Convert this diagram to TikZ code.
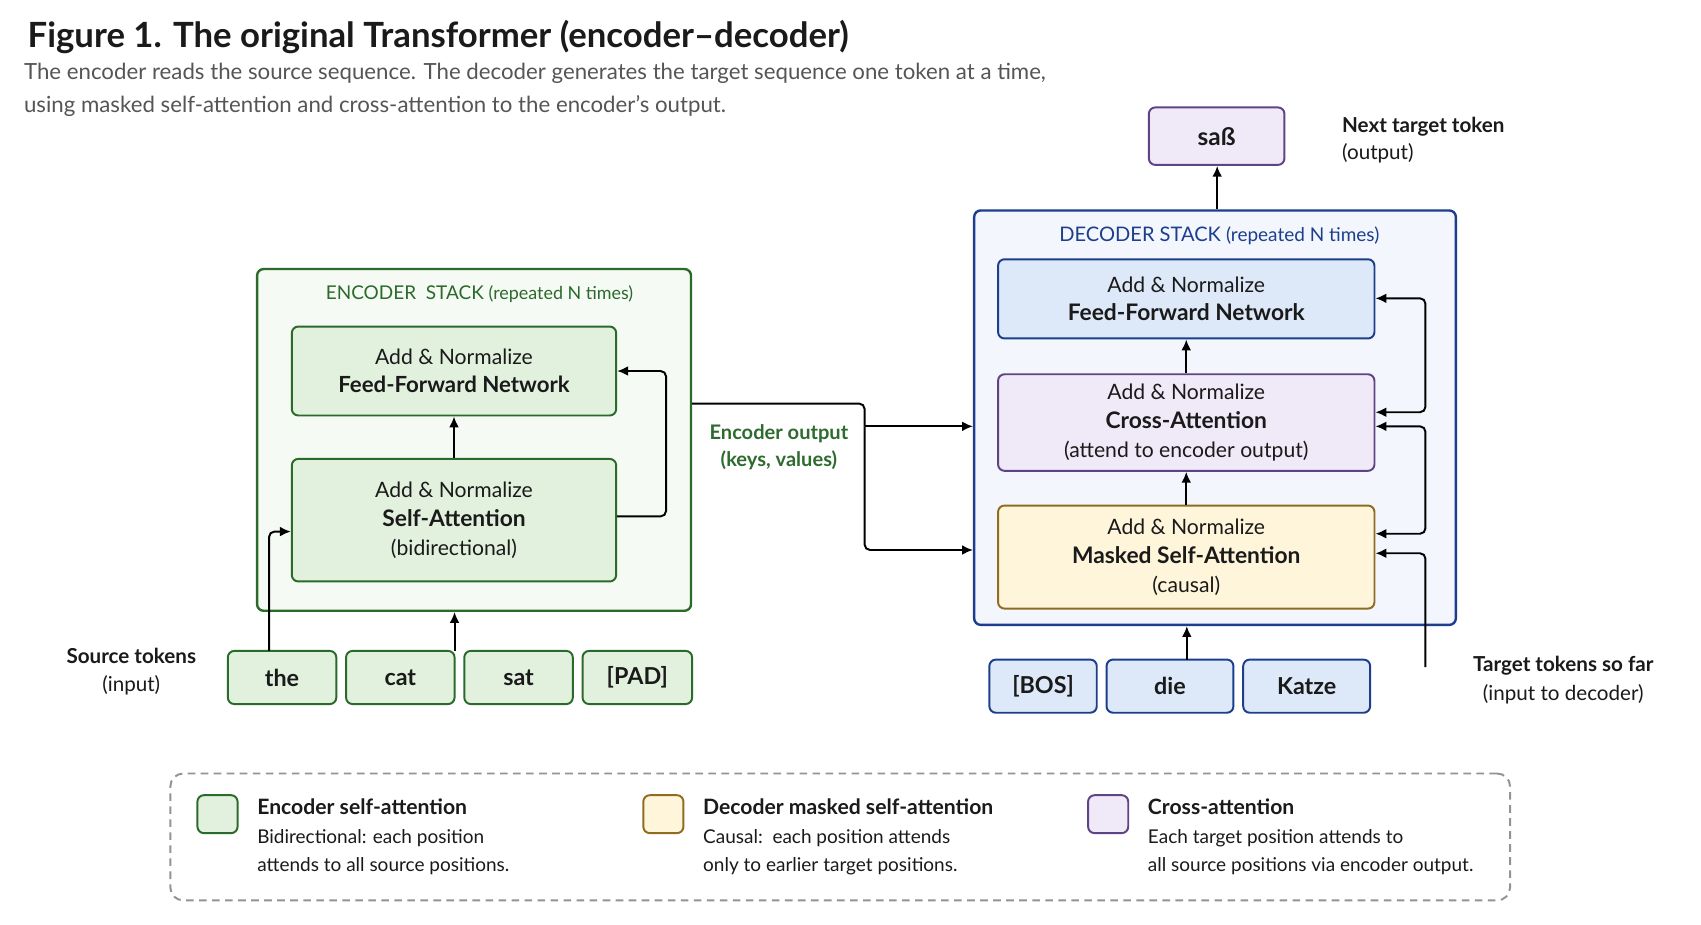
\documentclass[tikz,border=0pt]{standalone}
\usepackage{fontspec}
\setmainfont{Lato}
\usetikzlibrary{arrows.meta,positioning}
\definecolor{gB}{HTML}{2A6A2A}\definecolor{gF}{HTML}{E2F1DE}\definecolor{gS}{HTML}{F6FAF4}
\definecolor{bB}{HTML}{1C3E8C}\definecolor{bF}{HTML}{DDE9F8}\definecolor{bS}{HTML}{F3F7FD}
\definecolor{pB}{HTML}{5E4483}\definecolor{pF}{HTML}{EFE9F8}
\definecolor{yB}{HTML}{8F6C20}\definecolor{yF}{HTML}{FFF5DB}
\definecolor{txt}{HTML}{1A1A1A}\definecolor{gry}{HTML}{555555}\definecolor{eg}{HTML}{2E6B2E}
\begin{document}
\begin{tikzpicture}[x=1pt,y=-1pt,
  box/.style={draw,rounded corners=6pt,line width=1.8pt,align=center,inner sep=0pt,text=txt,font=\fontsize{19.5}{26}\selectfont},
  tok/.style={box,minimum height=49pt,font=\fontsize{21.5}{24}\selectfont\bfseries},
  arr/.style={-{Latex[length=10pt,width=9pt]},line width=1.8pt,rounded corners=5pt},
  ln/.style={line width=1.8pt,rounded corners=5pt},
  sw/.style={draw,rounded corners=6pt,line width=1.8pt,minimum width=37pt,minimum height=35pt,inner sep=0pt}]
\useasboundingbox (0,0) rectangle (1568,852);
\fill[white] (0,0) rectangle (1568,852);
\node[anchor=base west,font=\fontsize{32}{34}\selectfont\bfseries,text=txt] (title) at (22,44) {Figure 1. The original Transformer (encoder–decoder)};
\node[anchor=north west,align=left,font=\fontsize{20.5}{30}\selectfont,text=gry,inner sep=0pt] (sub) at (22,58) {The encoder reads the source sequence. The decoder generates the target sequence one token at a time,\\using masked self-attention and cross-attention to the encoder’s output.};
% encoder
\node[box,draw=gB,fill=gS,minimum width=400pt,minimum height=315pt,line width=2.2pt] (enc) at (437,405.5) {};
\node[font=\fontsize{17.5}{20}\selectfont,text=gB] (encl) at (442,271) {ENCODER\ \ STACK {\fontsize{16.5}{20}\selectfont(repeated N times)}};
\node[box,draw=gB,fill=gF,minimum width=299pt,minimum height=82pt] (effn) at (418.5,342) {Add \& Normalize\\{\fontsize{20.5}{26}\selectfont\bfseries Feed-Forward Network}};
\node[box,draw=gB,fill=gF,minimum width=299pt,minimum height=113pt,font=\fontsize{19.5}{27}\selectfont] (esa) at (418.5,479.5) {Add \& Normalize\\{\fontsize{21}{27}\selectfont\bfseries Self-Attention}\\(bidirectional)};
\node[tok,draw=gB,fill=gF,minimum width=100pt] (t1) at (260,624.5) {the};
\node[tok,draw=gB,fill=gF,minimum width=100pt] (t2) at (369,624.5) {cat};
\node[tok,draw=gB,fill=gF,minimum width=100pt] (t3) at (478,624.5) {sat};
\node[tok,draw=gB,fill=gF,minimum width=101pt] (t4) at (587.5,624.5) {[PAD]};
\node[align=center,font=\fontsize{19}{26}\selectfont,text=txt] (srcl) at (121,619) {\textbf{Source tokens}\\(input)};
\draw[arr] (esa.north) -- (effn.south);
\draw[arr] (419,600) -- (enc.south -| 419,0);
\draw[arr] (248,600) -- (248,490) -- (esa.west |- 0,490);
\draw[arr] (esa.east |- 0,476) -- (614,476) -- (614,342) -- (effn.east |- 0,342);
% decoder
\node[box,draw=bB,fill=bS,minimum width=444pt,minimum height=382pt,line width=2.2pt] (dec) at (1120,385) {};
\node[font=\fontsize{18.5}{20}\selectfont,text=bB] (decl) at (1124,217) {DECODER STACK {\fontsize{17.5}{20}\selectfont(repeated N times)}};
\node[box,draw=bB,fill=bF,minimum width=347pt,minimum height=73pt] (dffn) at (1093.5,275.5) {Add \& Normalize\\{\fontsize{21}{26}\selectfont\bfseries Feed-Forward Network}};
\node[box,draw=pB,fill=pF,minimum width=347pt,minimum height=89pt,font=\fontsize{19.5}{27}\selectfont] (dca) at (1093.5,389.5) {Add \& Normalize\\{\fontsize{21}{27}\selectfont\bfseries Cross-Attention}\\(attend to encoder output)};
\node[box,draw=yB,fill=yF,minimum width=347pt,minimum height=95pt,font=\fontsize{19.5}{27}\selectfont] (dms) at (1093.5,513.5) {Add \& Normalize\\{\fontsize{21}{27}\selectfont\bfseries Masked Self-Attention}\\(causal)};
\node[tok,draw=bB,fill=bF,minimum width=99pt] (b1) at (961.5,632.5) {[BOS]};
\node[tok,draw=bB,fill=bF,minimum width=117pt] (b2) at (1078.5,632.5) {die};
\node[tok,draw=bB,fill=bF,minimum width=117pt] (b3) at (1204.5,632.5) {Katze};
\node[tok,draw=pB,fill=pF,minimum width=125pt,minimum height=53pt,font=\fontsize{22.5}{24}\selectfont\bfseries] (out) at (1121.5,125.5) {saß};
\node[anchor=north west,align=left,font=\fontsize{19}{25}\selectfont,text=txt,inner sep=0pt] (outl) at (1237,108) {\textbf{Next target token}\\(output)};
\node[align=center,font=\fontsize{19}{27}\selectfont,text=txt] (tgtl) at (1441,627) {\textbf{Target tokens so far}\\(input to decoder)};
\draw[arr] (dms.north) -- (dca.south);
\draw[arr] (dca.north) -- (dffn.south);
\draw[arr] (1094,608) -- (dec.south -| 1094,0);
\draw[arr] (dec.north -| 1122,0) -- (out.south -| 1122,0);
\draw[arr] (1314,615) -- (1314,510) -- (dms.east |- 0,510);
\draw[arr,{Latex[length=10pt,width=9pt]}-{Latex[length=10pt,width=9pt]}] (dms.east |- 0,492) -- (1314,492) -- (1314,393) -- (dca.east |- 0,393);
\draw[arr,{Latex[length=10pt,width=9pt]}-{Latex[length=10pt,width=9pt]}] (dca.east |- 0,380) -- (1314,380) -- (1314,275) -- (dffn.east |- 0,275);
% encoder output
\coordinate (split) at (797,393);
\draw[ln] (enc.east |- 0,372) -- (797,372) -- (split);
\draw[arr] (split) -- (dec.west |- split);
\draw[arr] (split) -- (797,507) -- (dec.west |- 0,507);
\node[align=center,font=\fontsize{18.5}{25}\selectfont\bfseries,text=eg] (eol) at (718,412) {Encoder output\\(keys, values)};
% legend
\node[draw=gray!85,dashed,dash pattern=on 7pt off 5pt,line width=1.8pt,rounded corners=12pt,minimum width=1235pt,minimum height=117pt] (leg) at (774.5,771.5) {};
\node[sw,draw=gB,fill=gF] (s1) at (200.5,750.5) {};
\node[sw,draw=yB,fill=yF] (s2) at (611.5,750.5) {};
\node[sw,draw=pB,fill=pF] (s3) at (1021.5,750.5) {};
\foreach \n/\x/\t/\a/\b in {l1/237/Encoder self-attention/Bidirectional: each position/attends to all source positions.,
  l2/648/Decoder masked self-attention/Causal:\ \ each position attends/only to earlier target positions.,
  l3/1058/Cross-attention/Each target position attends to/all source positions via encoder output.}{
  \node[anchor=north west,align=left,inner sep=0pt,text=txt,font=\fontsize{17.5}{26.5}\selectfont] (\n) at (\x,736) {{\fontsize{19.5}{20}\selectfont\bfseries \t}\\\a\\\b};
}
\end{tikzpicture}
\end{document}
